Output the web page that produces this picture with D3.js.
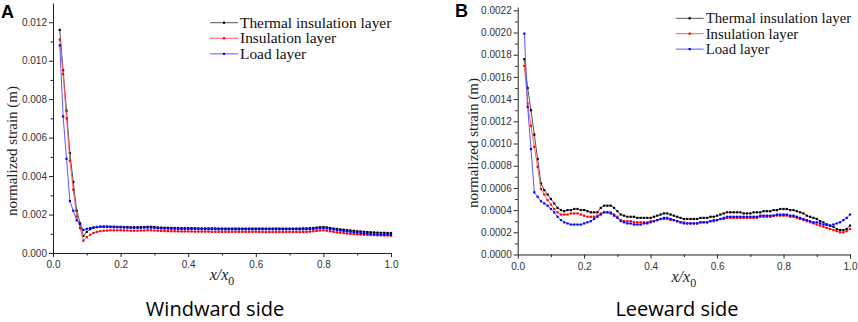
<!DOCTYPE html>
<html><head><meta charset="utf-8">
<script src="https://cdn.jsdelivr.net/npm/d3@7"></script>
<style>
html,body{margin:0;padding:0;background:#fff;}
svg{display:block;}
</style></head>
<body>
<svg id="chart" width="858" height="322"></svg>
<script>
// ---------- data ----------
const seriesNames = ["Thermal insulation layer", "Insulation layer", "Load layer"];
const seriesColors = ["#000000", "#ff0000", "#0000ff"];
const lineColors = ["#555555", "#ff5a5a", "#5a5aff"];

const xValues = [0.02,0.03,0.04,0.05,0.06,0.07,0.08,0.09,0.10,0.11,0.12,0.13,0.14,0.15,0.16,0.17,0.18,0.19,0.20,
0.21,0.22,0.23,0.24,0.25,0.26,0.27,0.28,0.29,0.30,0.31,0.32,0.33,0.34,0.35,0.36,0.37,0.38,0.39,0.40,
0.41,0.42,0.43,0.44,0.45,0.46,0.47,0.48,0.49,0.50,0.51,0.52,0.53,0.54,0.55,0.56,0.57,0.58,0.59,0.60,
0.61,0.62,0.63,0.64,0.65,0.66,0.67,0.68,0.69,0.70,0.71,0.72,0.73,0.74,0.75,0.76,0.77,0.78,0.79,0.80,
0.81,0.82,0.83,0.84,0.85,0.86,0.87,0.88,0.89,0.90,0.91,0.92,0.93,0.94,0.95,0.96,0.97,0.98,0.99,1.00];

// Panel A: windward side
const windThermal = [0.0116,0.0095,0.0074,0.0052,0.0037,0.0022,0.00155,0.00088,0.00110,0.00124,0.00131,0.00135,0.00137,0.00138,0.00138,0.00137,0.00137,0.00136,0.00136,
0.00135,0.00135,0.00134,0.00134,0.00134,0.00135,0.00135,0.00136,0.00136,0.00135,0.00133,0.00132,0.00131,0.00131,0.00130,0.00130,0.00130,0.00129,0.00129,0.00129,
0.00129,0.00129,0.00128,0.00128,0.00128,0.00128,0.00128,0.00128,0.00127,0.00127,0.00127,0.00127,0.00127,0.00127,0.00127,0.00127,0.00127,0.00127,0.00127,0.00127,
0.00127,0.00127,0.00127,0.00127,0.00127,0.00127,0.00127,0.00127,0.00127,0.00127,0.00127,0.00127,0.00127,0.00128,0.00128,0.00129,0.00130,0.00132,0.00134,0.00135,
0.00133,0.00130,0.00127,0.00125,0.00123,0.00121,0.00119,0.00117,0.00115,0.00113,0.00112,0.00110,0.00109,0.00108,0.00107,0.00106,0.00105,0.00105,0.00104,0.00104];
const windInsulation = [0.0111,0.0093,0.0070,0.0048,0.0033,0.0019,0.0013,0.00064,0.00082,0.00095,0.00104,0.00110,0.00114,0.00116,0.00117,0.00118,0.00118,0.00118,0.00118,
0.00117,0.00117,0.00116,0.00116,0.00116,0.00117,0.00117,0.00118,0.00118,0.00117,0.00116,0.00115,0.00114,0.00114,0.00113,0.00113,0.00113,0.00112,0.00112,0.00112,
0.00112,0.00111,0.00111,0.00111,0.00111,0.00111,0.00110,0.00110,0.00110,0.00110,0.00110,0.00110,0.00110,0.00110,0.00110,0.00110,0.00110,0.00110,0.00110,0.00110,
0.00109,0.00109,0.00109,0.00109,0.00109,0.00109,0.00109,0.00109,0.00109,0.00109,0.00109,0.00109,0.00109,0.00109,0.00110,0.00111,0.00113,0.00115,0.00117,0.00118,
0.00116,0.00113,0.00110,0.00107,0.00105,0.00103,0.00101,0.00099,0.00098,0.00097,0.00096,0.00095,0.00094,0.00093,0.00093,0.00092,0.00092,0.00091,0.00091,0.00090];
const windLoad = [0.0108,0.0071,0.0049,0.0027,0.0022,0.0017,0.0015,0.00120,0.00126,0.00130,0.00133,0.00135,0.00136,0.00136,0.00135,0.00135,0.00134,0.00134,0.00133,
0.00132,0.00132,0.00131,0.00131,0.00131,0.00131,0.00132,0.00132,0.00132,0.00131,0.00129,0.00128,0.00127,0.00127,0.00126,0.00126,0.00126,0.00125,0.00125,0.00125,
0.00125,0.00125,0.00124,0.00124,0.00124,0.00124,0.00124,0.00124,0.00123,0.00123,0.00123,0.00123,0.00123,0.00123,0.00123,0.00123,0.00123,0.00123,0.00123,0.00123,
0.00123,0.00123,0.00123,0.00123,0.00123,0.00123,0.00123,0.00123,0.00123,0.00123,0.00123,0.00123,0.00123,0.00123,0.00123,0.00124,0.00125,0.00127,0.00129,0.00130,
0.00128,0.00125,0.00122,0.00119,0.00117,0.00114,0.00112,0.00110,0.00108,0.00106,0.00104,0.00102,0.00100,0.00099,0.00098,0.00097,0.00096,0.00095,0.00095,0.00094];

// Panel B: leeward side
const leeThermal = [0.00176,0.00150,0.00130,0.00108,0.00086,0.00064,0.00058,0.00054,0.00050,0.00046,0.00042,0.00040,0.00039,0.00040,0.00040,0.00041,0.00041,0.00040,0.00040,
0.00039,0.00038,0.00038,0.00038,0.00042,0.00044,0.00044,0.00044,0.00042,0.00039,0.00036,0.00035,0.00034,0.00034,0.00034,0.00033,0.00033,0.00033,0.00033,0.00033,
0.00034,0.00035,0.00036,0.00037,0.00037,0.00036,0.00035,0.00034,0.00033,0.00032,0.00032,0.00032,0.00032,0.00032,0.00033,0.00033,0.00033,0.00034,0.00034,0.00035,
0.00036,0.00037,0.00038,0.00038,0.00038,0.00038,0.00038,0.00037,0.00037,0.00037,0.00038,0.00038,0.00038,0.00039,0.00039,0.00039,0.00040,0.00040,0.00041,0.00041,
0.00041,0.00040,0.00040,0.00039,0.00038,0.00037,0.00035,0.00034,0.00033,0.00032,0.00030,0.00029,0.00027,0.00026,0.00025,0.00023,0.00022,0.00022,0.00023,0.00026];
const leeInsulation = [0.00170,0.00136,0.00116,0.00097,0.00079,0.00059,0.00054,0.00049,0.00045,0.00041,0.00038,0.00036,0.00036,0.00036,0.00037,0.00037,0.00037,0.00036,0.00035,
0.00034,0.00034,0.00034,0.00035,0.00037,0.00038,0.00038,0.00038,0.00036,0.00034,0.00031,0.00030,0.00030,0.00030,0.00029,0.00029,0.00029,0.00029,0.00029,0.00030,
0.00030,0.00031,0.00032,0.00032,0.00032,0.00031,0.00031,0.00030,0.00029,0.00029,0.00028,0.00028,0.00028,0.00028,0.00029,0.00029,0.00029,0.00030,0.00030,0.00031,
0.00032,0.00032,0.00033,0.00033,0.00033,0.00033,0.00033,0.00033,0.00033,0.00033,0.00033,0.00033,0.00034,0.00034,0.00034,0.00034,0.00035,0.00035,0.00035,0.00035,
0.00035,0.00034,0.00034,0.00033,0.00032,0.00031,0.00030,0.00029,0.00028,0.00027,0.00026,0.00025,0.00024,0.00023,0.00022,0.00021,0.00020,0.00020,0.00021,0.00023];
const leeLoad = [0.00199,0.00133,0.00095,0.00056,0.00052,0.00048,0.00046,0.00044,0.00041,0.00038,0.00034,0.00031,0.00029,0.00028,0.00027,0.00027,0.00027,0.00027,0.00028,
0.00029,0.00030,0.00032,0.00034,0.00036,0.00038,0.00038,0.00037,0.00035,0.00033,0.00030,0.00029,0.00028,0.00028,0.00027,0.00027,0.00027,0.00028,0.00028,0.00029,
0.00030,0.00031,0.00032,0.00033,0.00033,0.00032,0.00031,0.00030,0.00029,0.00028,0.00028,0.00028,0.00028,0.00028,0.00029,0.00029,0.00029,0.00030,0.00031,0.00031,
0.00032,0.00033,0.00034,0.00034,0.00034,0.00034,0.00034,0.00034,0.00034,0.00034,0.00034,0.00034,0.00035,0.00035,0.00035,0.00035,0.00035,0.00036,0.00036,0.00036,
0.00036,0.00035,0.00035,0.00034,0.00033,0.00032,0.00031,0.00030,0.00029,0.00029,0.00028,0.00027,0.00027,0.00026,0.00027,0.00028,0.00029,0.00031,0.00033,0.00036];

const xTicks = [0, 0.2, 0.4, 0.6, 0.8, 1.0];
const windYTicks = [0, 0.002, 0.004, 0.006, 0.008, 0.010, 0.012];
const leeYTicks = [0, 0.0002, 0.0004, 0.0006, 0.0008, 0.0010, 0.0012, 0.0014, 0.0016, 0.0018, 0.0020, 0.0022];

// ---------- drawing ----------
const svg = d3.select("#chart");

function drawPanel(cfg) {
  const g = svg.append("g");
  const x = d3.scaleLinear().domain([0, 1]).range([cfg.x0, cfg.x1]);
  const y = d3.scaleLinear().domain([0, cfg.yMax]).range([cfg.yBottom, cfg.yTop]);

  const xMinor = [0.1, 0.3, 0.5, 0.7, 0.9];

  g.append("g").attr("transform", `translate(0,${cfg.yBottom})`)
    .call(d3.axisBottom(x).tickValues(xTicks).tickFormat(d3.format(".1f")).tickSize(4).tickSizeOuter(0).tickPadding(4));
  g.append("g").attr("transform", `translate(0,${cfg.yBottom})`)
    .call(d3.axisBottom(x).tickValues(xMinor).tickFormat("").tickSize(2.5).tickSizeOuter(0))
    .select(".domain").remove();

  g.append("g").attr("transform", `translate(${cfg.x0},0)`)
    .call(d3.axisLeft(y).tickValues(cfg.yTicks).tickFormat(d3.format(cfg.fmt)).tickSize(4).tickSizeOuter(0).tickPadding(2));
  g.append("g").attr("transform", `translate(${cfg.x0},0)`)
    .call(d3.axisLeft(y).tickValues(cfg.yMinor).tickFormat("").tickSize(2.5).tickSizeOuter(0))
    .select(".domain").remove();

  g.selectAll(".domain").attr("stroke", "#222").attr("stroke-width", 1);
  g.selectAll(".tick line").attr("stroke", "#222");
  g.selectAll(".tick text").attr("font-family", "'Liberation Sans', Arial, sans-serif")
    .attr("font-size", 10).attr("fill", "#333");

  // series
  const line = d3.line().x((d, i) => x(xValues[i])).y(d => y(d));
  cfg.series.forEach((vals, si) => {
    g.append("path").datum(vals)
      .attr("fill", "none").attr("stroke", lineColors[si]).attr("stroke-width", 1)
      .attr("d", line);
    g.append("g").selectAll("rect").data(vals).join("rect")
      .attr("x", (d, i) => x(xValues[i]) - 1.1)
      .attr("y", d => y(d) - 1.1)
      .attr("width", 2.2).attr("height", 2.2)
      .attr("fill", seriesColors[si]);
  });

  // axis titles
  const xl = g.append("text")
    .attr("x", (cfg.x0 + cfg.x1) / 2).attr("y", cfg.yBottom + 27)
    .attr("text-anchor", "middle")
    .attr("font-family", "'Liberation Serif', 'Times New Roman', serif")
    .attr("font-size", 16).attr("fill", "#222");
  xl.append("tspan").attr("font-style", "italic").text("x/x");
  xl.append("tspan").attr("font-size", 12).attr("dy", 5).text("0");

  g.append("text")
    .attr("transform", `translate(${cfg.yLabelX},${cfg.yLabelY}) rotate(-90)`)
    .attr("text-anchor", "middle")
    .attr("font-family", "'Liberation Serif', 'Times New Roman', serif")
    .attr("font-size", 15).attr("fill", "#222")
    .text("normalized strain (m)");

  // legend
  seriesNames.forEach((name, si) => {
    const ly = cfg.legY + si * cfg.legStep;
    g.append("line").attr("x1", cfg.legX).attr("x2", cfg.legX + 28)
      .attr("y1", ly).attr("y2", ly).attr("stroke", lineColors[si]).attr("stroke-width", 1);
    g.append("rect").attr("x", cfg.legX + 14 - 1.1).attr("y", ly - 1.1)
      .attr("width", 2.2).attr("height", 2.2).attr("fill", seriesColors[si]);
    g.append("text").attr("x", cfg.legX + 30).attr("y", ly + 5)
      .attr("font-family", "'Liberation Serif', 'Times New Roman', serif")
      .attr("font-size", cfg.legFont).attr("fill", "#111").text(name);
  });

  // panel letter
  g.append("text").attr("x", cfg.letterX).attr("y", cfg.letterY)
    .attr("font-family", "'Liberation Sans', Arial, sans-serif")
    .attr("font-weight", "bold").attr("font-size", 18).attr("fill", "#000")
    .text(cfg.letter);

  // caption
  g.append("text").attr("x", cfg.capX).attr("y", 316)
    .attr("text-anchor", "middle")
    .attr("font-family", "'Open Sans', sans-serif")
    .attr("font-size", 20).attr("fill", "#000")
    .text(cfg.caption);
}

drawPanel({
  x0: 53, x1: 391, yBottom: 253, yTop: 3, yMax: 0.013,
  yTicks: windYTicks, yMinor: [0.001, 0.003, 0.005, 0.007, 0.009, 0.011], fmt: ".3f",
  series: [windThermal, windInsulation, windLoad],
  yLabelX: 17, yLabelY: 151,
  legX: 210, legY: 22.7, legStep: 15.6, legFont: 15.4,
  letter: "A", letterX: 1, letterY: 18,
  caption: "Windward side", capX: 215
});

drawPanel({
  x0: 517.7, x1: 850, yBottom: 254.5, yTop: 7, yMax: 0.00223,
  yTicks: leeYTicks, yMinor: [0.0001,0.0003,0.0005,0.0007,0.0009,0.0011,0.0013,0.0015,0.0017,0.0019,0.0021], fmt: ".4f",
  series: [leeThermal, leeInsulation, leeLoad],
  yLabelX: 478, yLabelY: 143,
  legX: 675.7, legY: 18.3, legStep: 15.4, legFont: 14.8,
  letter: "B", letterX: 455, letterY: 17,
  caption: "Leeward side", capX: 677
});
</script>
</body></html>
